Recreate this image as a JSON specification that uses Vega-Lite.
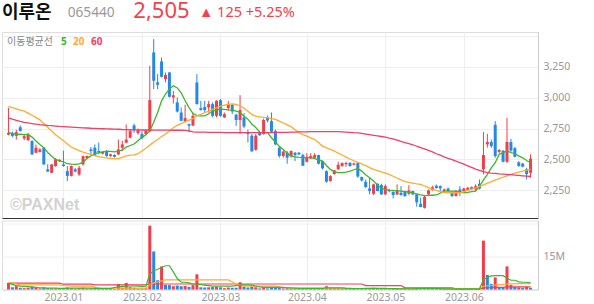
{
"$schema":"https://vega.github.io/schema/vega-lite/v6.json",
"padding":{"left":1,"top":0,"right":0,"bottom":0},
"background":"white",
"spacing":8,
"resolve":{"scale":{"color":"independent"},"legend":{"color":"independent"}},
"config":{"view":{"stroke":"#dddddd"},"font":"Noto Sans","axis":{"labelFont":"Noto Sans","labelFontSize":10.5,"labelColor":"#999999","ticks":false,"gridColor":"#eeeeee"}},
"datasets":{
"hdr":[{"part":"name","t":"이루온"},{"part":"code","t":"065440"},{"part":"price","t":"2,505"},{"part":"chg","t":"▲ 125 +5.25%"}],
"k":[
{"i":0,"o":2700,"h":2918,"l":2695,"c":2715,"v":3.0,"vu":1,"m5":2716,"m20":2930,"m60":2835,"w5":2.8,"w20":3.0,"w60":2.9},
{"i":1,"o":2712,"h":2725,"l":2680,"c":2690,"v":1.0,"vu":0,"m5":2710,"m20":2920,"m60":2826,"w5":2.3,"w20":3.0,"w60":2.9},
{"i":2,"o":2690,"h":2740,"l":2660,"c":2720,"v":1.5,"vu":1,"m5":2702,"m20":2910,"m60":2817,"w5":1.8,"w20":2.5,"w60":2.9},
{"i":3,"o":2760,"h":2775,"l":2725,"c":2730,"v":0.8,"vu":0,"m5":2705,"m20":2900,"m60":2808,"w5":1.5,"w20":2.1,"w60":2.9},
{"i":4,"o":2670,"h":2700,"l":2655,"c":2688,"v":0.6,"vu":1,"m5":2700,"m20":2891,"m60":2800,"w5":1.4,"w20":2.1,"w60":2.9},
{"i":5,"o":2655,"h":2715,"l":2650,"c":2700,"v":0.8,"vu":1,"m5":2702,"m20":2875,"m60":2795,"w5":1.3,"w20":2.1,"w60":2.9},
{"i":6,"o":2648,"h":2655,"l":2535,"c":2540,"v":1.2,"vu":0,"m5":2680,"m20":2858,"m60":2790,"w5":1.2,"w20":2.1,"w60":2.9},
{"i":7,"o":2553,"h":2620,"l":2550,"c":2594,"v":0.7,"vu":1,"m5":2648,"m20":2840,"m60":2785,"w5":1.0,"w20":2.1,"w60":2.9},
{"i":8,"o":2560,"h":2590,"l":2555,"c":2580,"v":0.5,"vu":1,"m5":2620,"m20":2820,"m60":2781,"w5":0.8,"w20":2.1,"w60":2.9},
{"i":9,"o":2594,"h":2600,"l":2455,"c":2458,"v":0.9,"vu":0,"m5":2594,"m20":2790,"m60":2778,"w5":0.7,"w20":2.1,"w60":2.9},
{"i":10,"o":2418,"h":2460,"l":2398,"c":2400,"v":0.6,"vu":0,"m5":2555,"m20":2760,"m60":2775,"w5":0.6,"w20":2.1,"w60":2.9},
{"i":11,"o":2390,"h":2462,"l":2388,"c":2458,"v":0.5,"vu":1,"m5":2525,"m20":2730,"m60":2773,"w5":0.6,"w20":2.1,"w60":2.9},
{"i":12,"o":2445,"h":2510,"l":2440,"c":2500,"v":0.5,"vu":1,"m5":2499,"m20":2700,"m60":2770,"w5":0.6,"w20":2.1,"w60":2.9},
{"i":13,"o":2485,"h":2500,"l":2478,"c":2495,"v":0.4,"vu":1,"m5":2488,"m20":2675,"m60":2767,"w5":0.5,"w20":2.1,"w60":2.9},
{"i":14,"o":2458,"h":2570,"l":2440,"c":2445,"v":0.6,"vu":0,"m5":2480,"m20":2650,"m60":2765,"w5":0.5,"w20":1.8,"w60":2.4},
{"i":15,"o":2404,"h":2445,"l":2323,"c":2365,"v":0.9,"vu":0,"m5":2464,"m20":2625,"m60":2763,"w5":0.6,"w20":1.7,"w60":2.4},
{"i":16,"o":2365,"h":2450,"l":2360,"c":2445,"v":0.6,"vu":1,"m5":2460,"m20":2600,"m60":2761,"w5":0.6,"w20":1.5,"w60":2.4},
{"i":17,"o":2418,"h":2430,"l":2395,"c":2400,"v":0.4,"vu":0,"m5":2458,"m20":2585,"m60":2759,"w5":0.6,"w20":1.5,"w60":2.4},
{"i":18,"o":2377,"h":2445,"l":2365,"c":2431,"v":0.6,"vu":1,"m5":2462,"m20":2570,"m60":2757,"w5":0.6,"w20":1.5,"w60":2.4},
{"i":19,"o":2458,"h":2530,"l":2450,"c":2525,"v":0.8,"vu":1,"m5":2475,"m20":2558,"m60":2755,"w5":0.6,"w20":1.5,"w60":2.4},
{"i":20,"o":2510,"h":2530,"l":2505,"c":2527,"v":0.4,"vu":1,"m5":2507,"m20":2548,"m60":2754,"w5":0.6,"w20":1.5,"w60":2.4},
{"i":21,"o":2580,"h":2600,"l":2540,"c":2567,"v":0.5,"vu":0,"m5":2528,"m20":2540,"m60":2752,"w5":0.6,"w20":1.5,"w60":2.4},
{"i":22,"o":2594,"h":2620,"l":2525,"c":2527,"v":0.6,"vu":0,"m5":2545,"m20":2530,"m60":2751,"w5":0.5,"w20":1.0,"w60":2.1},
{"i":23,"o":2567,"h":2635,"l":2540,"c":2555,"v":0.4,"vu":0,"m5":2555,"m20":2522,"m60":2749,"w5":0.5,"w20":0.6,"w60":2.1},
{"i":24,"o":2545,"h":2565,"l":2540,"c":2560,"v":0.3,"vu":1,"m5":2561,"m20":2516,"m60":2748,"w5":0.45,"w20":0.6,"w60":2.1},
{"i":25,"o":2567,"h":2575,"l":2520,"c":2527,"v":0.4,"vu":0,"m5":2567,"m20":2512,"m60":2747,"w5":0.45,"w20":0.6,"w60":2.1},
{"i":26,"o":2527,"h":2545,"l":2520,"c":2540,"v":0.3,"vu":1,"m5":2565,"m20":2508,"m60":2746,"w5":0.4,"w20":0.6,"w60":2.1},
{"i":27,"o":2535,"h":2540,"l":2515,"c":2520,"v":0.3,"vu":0,"m5":2561,"m20":2505,"m60":2745,"w5":0.9,"w20":0.6,"w60":2.1},
{"i":28,"o":2540,"h":2660,"l":2535,"c":2580,"v":2.5,"vu":1,"m5":2566,"m20":2505,"m60":2744,"w5":1.2,"w20":0.6,"w60":2.1},
{"i":29,"o":2594,"h":2650,"l":2567,"c":2621,"v":0.8,"vu":1,"m5":2575,"m20":2515,"m60":2742,"w5":1.4,"w20":0.6,"w60":2.1},
{"i":30,"o":2635,"h":2783,"l":2630,"c":2660,"v":3.0,"vu":1,"m5":2599,"m20":2528,"m60":2741,"w5":1.5,"w20":0.6,"w60":2.1},
{"i":31,"o":2675,"h":2740,"l":2670,"c":2729,"v":1.2,"vu":1,"m5":2612,"m20":2533,"m60":2740,"w5":1.6,"w20":0.6,"w60":2.1},
{"i":32,"o":2775,"h":2790,"l":2715,"c":2735,"v":0.8,"vu":0,"m5":2624,"m20":2535,"m60":2739,"w5":1.6,"w20":0.6,"w60":2.1},
{"i":33,"o":2712,"h":2750,"l":2700,"c":2737,"v":0.5,"vu":1,"m5":2650,"m20":2545,"m60":2739,"w5":1.5,"w20":0.6,"w60":2.1},
{"i":34,"o":2705,"h":2727,"l":2662,"c":2672,"v":0.5,"vu":0,"m5":2678,"m20":2568,"m60":2738,"w5":1.4,"w20":0.6,"w60":2.1},
{"i":35,"o":2705,"h":2740,"l":2700,"c":2732,"v":0.6,"vu":1,"m5":2700,"m20":2590,"m60":2738,"w5":1.5,"w20":0.6,"w60":2.1},
{"i":36,"o":2727,"h":3260,"l":2718,"c":2981,"v":29.0,"vu":1,"m5":2732,"m20":2615,"m60":2738,"w5":7.0,"w20":2.0,"w60":2.5},
{"i":37,"o":3368,"h":3476,"l":3070,"c":3138,"v":17.3,"vu":0,"m5":2800,"m20":2640,"m60":2737,"w5":8.5,"w20":3.0,"w60":2.5},
{"i":38,"o":3125,"h":3192,"l":3070,"c":3105,"v":4.2,"vu":0,"m5":2880,"m20":2660,"m60":2737,"w5":9.2,"w20":3.5,"w60":2.5},
{"i":39,"o":3295,"h":3327,"l":3165,"c":3170,"v":10.5,"vu":1,"m5":2975,"m20":2685,"m60":2737,"w5":10.0,"w20":3.9,"w60":2.5},
{"i":40,"o":3152,"h":3205,"l":3125,"c":3185,"v":2.1,"vu":0,"m5":3030,"m20":2705,"m60":2737,"w5":10.8,"w20":4.35,"w60":2.5},
{"i":41,"o":3205,"h":3210,"l":3002,"c":3008,"v":2.0,"vu":0,"m5":3070,"m20":2730,"m60":2737,"w5":10.8,"w20":4.35,"w60":2.5},
{"i":42,"o":3002,"h":3056,"l":2953,"c":3020,"v":1.5,"vu":1,"m5":3097,"m20":2756,"m60":2736,"w5":8.0,"w20":4.35,"w60":2.5},
{"i":43,"o":2962,"h":3002,"l":2880,"c":2888,"v":1.8,"vu":0,"m5":3080,"m20":2775,"m60":2736,"w5":5.0,"w20":4.35,"w60":2.5},
{"i":44,"o":2880,"h":2921,"l":2808,"c":2813,"v":1.5,"vu":0,"m5":3040,"m20":2790,"m60":2736,"w5":3.3,"w20":4.35,"w60":2.5},
{"i":45,"o":2808,"h":2943,"l":2800,"c":2835,"v":1.6,"vu":1,"m5":2975,"m20":2805,"m60":2735,"w5":3.3,"w20":4.35,"w60":2.5},
{"i":46,"o":2786,"h":2790,"l":2718,"c":2773,"v":1.2,"vu":0,"m5":2920,"m20":2818,"m60":2730,"w5":3.0,"w20":4.35,"w60":2.5},
{"i":47,"o":2773,"h":2880,"l":2770,"c":2853,"v":2.0,"vu":1,"m5":2872,"m20":2830,"m60":2722,"w5":2.5,"w20":4.35,"w60":2.5},
{"i":48,"o":3124,"h":3192,"l":2945,"c":2948,"v":6.9,"vu":1,"m5":2855,"m20":2853,"m60":2721,"w5":2.5,"w20":4.35,"w60":2.5},
{"i":49,"o":2916,"h":2975,"l":2895,"c":2900,"v":1.0,"vu":0,"m5":2853,"m20":2865,"m60":2720,"w5":2.2,"w20":4.35,"w60":2.5},
{"i":50,"o":2925,"h":2975,"l":2880,"c":2900,"v":0.9,"vu":0,"m5":2853,"m20":2878,"m60":2720,"w5":2.0,"w20":4.35,"w60":2.5},
{"i":51,"o":2921,"h":2975,"l":2880,"c":2948,"v":1.0,"vu":1,"m5":2870,"m20":2892,"m60":2719,"w5":1.8,"w20":4.35,"w60":2.5},
{"i":52,"o":2948,"h":2962,"l":2840,"c":2853,"v":1.1,"vu":0,"m5":2894,"m20":2905,"m60":2719,"w5":1.5,"w20":4.35,"w60":2.5},
{"i":53,"o":2853,"h":2980,"l":2840,"c":2975,"v":1.2,"vu":1,"m5":2900,"m20":2918,"m60":2718,"w5":1.5,"w20":4.35,"w60":2.5},
{"i":54,"o":2980,"h":2990,"l":2845,"c":2853,"v":1.0,"vu":0,"m5":2908,"m20":2930,"m60":2718,"w5":1.5,"w20":4.35,"w60":2.5},
{"i":55,"o":2840,"h":2880,"l":2835,"c":2867,"v":0.6,"vu":1,"m5":2905,"m20":2940,"m60":2717,"w5":1.5,"w20":4.35,"w60":2.5},
{"i":56,"o":2916,"h":2975,"l":2894,"c":2948,"v":0.9,"vu":1,"m5":2902,"m20":2946,"m60":2717,"w5":1.5,"w20":4.35,"w60":2.5},
{"i":57,"o":2943,"h":2948,"l":2867,"c":2888,"v":0.7,"vu":0,"m5":2900,"m20":2950,"m60":2717,"w5":1.5,"w20":3.5,"w60":2.5},
{"i":58,"o":2862,"h":2870,"l":2772,"c":2819,"v":0.8,"vu":0,"m5":2892,"m20":2945,"m60":2717,"w5":1.8,"w20":2.5,"w60":2.5},
{"i":59,"o":2819,"h":3021,"l":2705,"c":2900,"v":3.3,"vu":1,"m5":2880,"m20":2935,"m60":2716,"w5":2.0,"w20":2.1,"w60":2.5},
{"i":60,"o":2840,"h":2875,"l":2753,"c":2767,"v":1.2,"vu":0,"m5":2850,"m20":2915,"m60":2716,"w5":2.1,"w20":1.5,"w60":2.5},
{"i":61,"o":2720,"h":2740,"l":2637,"c":2705,"v":0.9,"vu":0,"m5":2826,"m20":2890,"m60":2716,"w5":2.1,"w20":1.5,"w60":2.5},
{"i":62,"o":2692,"h":2705,"l":2561,"c":2565,"v":1.3,"vu":0,"m5":2785,"m20":2865,"m60":2716,"w5":2.0,"w20":1.5,"w60":2.5},
{"i":63,"o":2577,"h":2705,"l":2570,"c":2692,"v":1.0,"vu":1,"m5":2759,"m20":2850,"m60":2716,"w5":1.6,"w20":1.5,"w60":2.5},
{"i":64,"o":2718,"h":2732,"l":2690,"c":2695,"v":0.5,"vu":0,"m5":2718,"m20":2845,"m60":2716,"w5":1.2,"w20":1.5,"w60":2.5},
{"i":65,"o":2705,"h":2830,"l":2700,"c":2819,"v":1.0,"vu":1,"m5":2717,"m20":2840,"m60":2716,"w5":1.0,"w20":1.5,"w60":2.5},
{"i":66,"o":2840,"h":2855,"l":2800,"c":2815,"v":0.5,"vu":0,"m5":2716,"m20":2838,"m60":2717,"w5":1.0,"w20":1.5,"w60":2.5},
{"i":67,"o":2810,"h":2880,"l":2716,"c":2724,"v":0.8,"vu":0,"m5":2675,"m20":2830,"m60":2717,"w5":1.0,"w20":1.5,"w60":2.5},
{"i":68,"o":2729,"h":2743,"l":2615,"c":2621,"v":1.0,"vu":0,"m5":2640,"m20":2824,"m60":2718,"w5":1.0,"w20":1.5,"w60":2.5},
{"i":69,"o":2594,"h":2600,"l":2513,"c":2527,"v":0.9,"vu":0,"m5":2605,"m20":2810,"m60":2718,"w5":1.0,"w20":1.2,"w60":2.5},
{"i":70,"o":2527,"h":2572,"l":2513,"c":2562,"v":0.5,"vu":1,"m5":2580,"m20":2795,"m60":2719,"w5":0.9,"w20":1.0,"w60":2.5},
{"i":71,"o":2553,"h":2567,"l":2464,"c":2513,"v":0.6,"vu":0,"m5":2550,"m20":2780,"m60":2719,"w5":0.8,"w20":0.8,"w60":2.5},
{"i":72,"o":2527,"h":2572,"l":2513,"c":2567,"v":0.5,"vu":1,"m5":2526,"m20":2765,"m60":2720,"w5":0.7,"w20":0.6,"w60":2.5},
{"i":73,"o":2553,"h":2560,"l":2486,"c":2534,"v":0.4,"vu":0,"m5":2520,"m20":2740,"m60":2721,"w5":0.6,"w20":0.6,"w60":2.5},
{"i":74,"o":2553,"h":2560,"l":2535,"c":2540,"v":0.3,"vu":0,"m5":2515,"m20":2715,"m60":2722,"w5":0.5,"w20":0.6,"w60":2.5},
{"i":75,"o":2534,"h":2545,"l":2445,"c":2448,"v":0.7,"vu":0,"m5":2513,"m20":2700,"m60":2722,"w5":0.5,"w20":0.6,"w60":2.5},
{"i":76,"o":2480,"h":2550,"l":2475,"c":2520,"v":0.4,"vu":1,"m5":2513,"m20":2688,"m60":2723,"w5":0.5,"w20":0.6,"w60":2.5},
{"i":77,"o":2507,"h":2550,"l":2500,"c":2526,"v":0.4,"vu":1,"m5":2513,"m20":2674,"m60":2724,"w5":0.5,"w20":0.6,"w60":2.5},
{"i":78,"o":2512,"h":2550,"l":2510,"c":2534,"v":0.5,"vu":1,"m5":2505,"m20":2660,"m60":2724,"w5":0.5,"w20":0.6,"w60":2.5},
{"i":79,"o":2534,"h":2537,"l":2458,"c":2464,"v":0.5,"vu":0,"m5":2495,"m20":2635,"m60":2725,"w5":0.5,"w20":0.6,"w60":2.5},
{"i":80,"o":2485,"h":2490,"l":2418,"c":2426,"v":0.6,"vu":0,"m5":2486,"m20":2607,"m60":2725,"w5":0.5,"w20":0.6,"w60":2.5},
{"i":81,"o":2404,"h":2410,"l":2310,"c":2318,"v":1.5,"vu":1,"m5":2450,"m20":2592,"m60":2725,"w5":0.7,"w20":0.6,"w60":2.5},
{"i":82,"o":2323,"h":2371,"l":2318,"c":2363,"v":0.6,"vu":1,"m5":2418,"m20":2580,"m60":2724,"w5":0.7,"w20":0.6,"w60":2.5},
{"i":83,"o":2380,"h":2415,"l":2375,"c":2410,"v":0.5,"vu":1,"m5":2400,"m20":2567,"m60":2724,"w5":0.7,"w20":0.6,"w60":2.5},
{"i":84,"o":2420,"h":2480,"l":2410,"c":2455,"v":0.6,"vu":1,"m5":2392,"m20":2550,"m60":2724,"w5":0.7,"w20":0.6,"w60":2.5},
{"i":85,"o":2445,"h":2475,"l":2440,"c":2470,"v":0.4,"vu":1,"m5":2391,"m20":2535,"m60":2722,"w5":0.7,"w20":0.6,"w60":2.5},
{"i":86,"o":2460,"h":2480,"l":2440,"c":2470,"v":0.3,"vu":1,"m5":2396,"m20":2518,"m60":2720,"w5":0.5,"w20":0.6,"w60":2.5},
{"i":87,"o":2472,"h":2475,"l":2440,"c":2445,"v":0.4,"vu":0,"m5":2404,"m20":2502,"m60":2718,"w5":0.45,"w20":0.6,"w60":2.5},
{"i":88,"o":2455,"h":2475,"l":2450,"c":2465,"v":0.3,"vu":1,"m5":2415,"m20":2488,"m60":2716,"w5":0.4,"w20":0.45,"w60":2.5},
{"i":89,"o":2470,"h":2475,"l":2350,"c":2360,"v":0.7,"vu":0,"m5":2426,"m20":2475,"m60":2715,"w5":0.45,"w20":0.45,"w60":2.5},
{"i":90,"o":2355,"h":2360,"l":2320,"c":2328,"v":0.5,"vu":0,"m5":2404,"m20":2462,"m60":2710,"w5":0.45,"w20":0.45,"w60":2.5},
{"i":91,"o":2317,"h":2336,"l":2269,"c":2274,"v":0.6,"vu":0,"m5":2375,"m20":2448,"m60":2705,"w5":0.5,"w20":0.45,"w60":1.8},
{"i":92,"o":2263,"h":2350,"l":2215,"c":2242,"v":0.7,"vu":0,"m5":2350,"m20":2432,"m60":2700,"w5":0.55,"w20":0.45,"w60":1.8},
{"i":93,"o":2220,"h":2301,"l":2209,"c":2296,"v":0.5,"vu":1,"m5":2323,"m20":2418,"m60":2695,"w5":0.6,"w20":0.45,"w60":1.8},
{"i":94,"o":2301,"h":2305,"l":2240,"c":2242,"v":0.4,"vu":0,"m5":2290,"m20":2408,"m60":2690,"w5":0.55,"w20":0.45,"w60":1.8},
{"i":95,"o":2290,"h":2301,"l":2209,"c":2215,"v":0.5,"vu":0,"m5":2263,"m20":2398,"m60":2685,"w5":0.55,"w20":0.45,"w60":1.8},
{"i":96,"o":2215,"h":2296,"l":2209,"c":2282,"v":0.4,"vu":1,"m5":2255,"m20":2388,"m60":2680,"w5":0.5,"w20":0.45,"w60":1.8},
{"i":97,"o":2250,"h":2260,"l":2232,"c":2240,"v":0.3,"vu":0,"m5":2250,"m20":2377,"m60":2672,"w5":0.45,"w20":0.45,"w60":1.8},
{"i":98,"o":2236,"h":2240,"l":2182,"c":2209,"v":0.4,"vu":0,"m5":2247,"m20":2362,"m60":2665,"w5":0.4,"w20":0.45,"w60":1.8},
{"i":99,"o":2215,"h":2296,"l":2210,"c":2247,"v":0.4,"vu":1,"m5":2245,"m20":2348,"m60":2655,"w5":0.4,"w20":0.45,"w60":1.8},
{"i":100,"o":2228,"h":2282,"l":2205,"c":2209,"v":0.3,"vu":0,"m5":2242,"m20":2333,"m60":2645,"w5":0.35,"w20":0.45,"w60":1.8},
{"i":101,"o":2242,"h":2245,"l":2195,"c":2201,"v":0.3,"vu":0,"m5":2238,"m20":2318,"m60":2636,"w5":0.35,"w20":0.45,"w60":0.75},
{"i":102,"o":2220,"h":2290,"l":2210,"c":2247,"v":0.4,"vu":1,"m5":2233,"m20":2312,"m60":2627,"w5":0.35,"w20":0.45,"w60":0.75},
{"i":103,"o":2242,"h":2245,"l":2210,"c":2215,"v":0.3,"vu":0,"m5":2228,"m20":2306,"m60":2618,"w5":0.35,"w20":0.45,"w60":0.75},
{"i":104,"o":2215,"h":2220,"l":2115,"c":2150,"v":0.6,"vu":0,"m5":2218,"m20":2300,"m60":2606,"w5":0.4,"w20":0.45,"w60":0.75},
{"i":105,"o":2139,"h":2188,"l":2110,"c":2112,"v":0.5,"vu":0,"m5":2210,"m20":2296,"m60":2595,"w5":0.45,"w20":0.45,"w60":0.75},
{"i":106,"o":2106,"h":2205,"l":2100,"c":2195,"v":0.6,"vu":1,"m5":2205,"m20":2283,"m60":2584,"w5":0.5,"w20":0.45,"w60":0.75},
{"i":107,"o":2215,"h":2255,"l":2210,"c":2247,"v":0.4,"vu":1,"m5":2206,"m20":2270,"m60":2572,"w5":0.5,"w20":0.45,"w60":0.75},
{"i":108,"o":2250,"h":2285,"l":2245,"c":2272,"v":0.3,"vu":1,"m5":2208,"m20":2258,"m60":2560,"w5":0.5,"w20":0.45,"w60":0.75},
{"i":109,"o":2285,"h":2295,"l":2262,"c":2266,"v":0.3,"vu":0,"m5":2210,"m20":2247,"m60":2545,"w5":0.45,"w20":0.45,"w60":0.75},
{"i":110,"o":2282,"h":2288,"l":2242,"c":2264,"v":0.3,"vu":0,"m5":2225,"m20":2238,"m60":2533,"w5":0.4,"w20":0.45,"w60":0.75},
{"i":111,"o":2242,"h":2262,"l":2235,"c":2255,"v":0.2,"vu":1,"m5":2242,"m20":2230,"m60":2520,"w5":0.3,"w20":0.45,"w60":0.75},
{"i":112,"o":2263,"h":2270,"l":2238,"c":2242,"v":0.2,"vu":0,"m5":2242,"m20":2229,"m60":2508,"w5":0.25,"w20":0.45,"w60":0.75},
{"i":113,"o":2236,"h":2240,"l":2195,"c":2201,"v":0.3,"vu":0,"m5":2242,"m20":2228,"m60":2497,"w5":0.25,"w20":0.45,"w60":0.75},
{"i":114,"o":2201,"h":2250,"l":2198,"c":2242,"v":0.3,"vu":1,"m5":2242,"m20":2228,"m60":2485,"w5":0.25,"w20":0.45,"w60":0.3},
{"i":115,"o":2255,"h":2282,"l":2201,"c":2228,"v":0.3,"vu":0,"m5":2235,"m20":2228,"m60":2472,"w5":0.25,"w20":0.45,"w60":0.3},
{"i":116,"o":2242,"h":2268,"l":2238,"c":2263,"v":0.2,"vu":1,"m5":2228,"m20":2236,"m60":2460,"w5":0.25,"w20":0.45,"w60":0.3},
{"i":117,"o":2252,"h":2275,"l":2248,"c":2269,"v":0.2,"vu":1,"m5":2232,"m20":2248,"m60":2447,"w5":0.25,"w20":0.45,"w60":0.3},
{"i":118,"o":2274,"h":2280,"l":2250,"c":2258,"v":0.2,"vu":0,"m5":2238,"m20":2258,"m60":2434,"w5":0.25,"w20":0.45,"w60":0.3},
{"i":119,"o":2255,"h":2296,"l":2242,"c":2282,"v":0.3,"vu":1,"m5":2242,"m20":2268,"m60":2420,"w5":0.25,"w20":0.45,"w60":0.3},
{"i":120,"o":2301,"h":2336,"l":2255,"c":2263,"v":0.5,"vu":0,"m5":2282,"m20":2280,"m60":2410,"w5":0.3,"w20":0.45,"w60":0.3},
{"i":121,"o":2418,"h":2721,"l":2377,"c":2535,"v":22.2,"vu":1,"m5":2330,"m20":2292,"m60":2400,"w5":4.5,"w20":1.5,"w60":0.7},
{"i":122,"o":2621,"h":2707,"l":2594,"c":2640,"v":6.6,"vu":0,"m5":2377,"m20":2305,"m60":2392,"w5":5.5,"w20":1.8,"w60":0.8},
{"i":123,"o":2640,"h":2661,"l":2594,"c":2607,"v":2.5,"vu":0,"m5":2430,"m20":2318,"m60":2388,"w5":6.2,"w20":1.9,"w60":0.85},
{"i":124,"o":2780,"h":2810,"l":2512,"c":2526,"v":5.5,"vu":1,"m5":2472,"m20":2330,"m60":2385,"w5":6.3,"w20":2.1,"w60":0.95},
{"i":125,"o":2560,"h":2585,"l":2550,"c":2575,"v":1.2,"vu":0,"m5":2540,"m20":2342,"m60":2382,"w5":6.3,"w20":2.2,"w60":1.0},
{"i":126,"o":2570,"h":2575,"l":2475,"c":2480,"v":1.0,"vu":0,"m5":2555,"m20":2354,"m60":2380,"w5":6.3,"w20":2.3,"w60":1.0},
{"i":127,"o":2480,"h":2837,"l":2470,"c":2640,"v":10.5,"vu":1,"m5":2567,"m20":2366,"m60":2377,"w5":5.2,"w20":2.5,"w60":1.2},
{"i":128,"o":2640,"h":2665,"l":2560,"c":2570,"v":2.1,"vu":0,"m5":2555,"m20":2377,"m60":2375,"w5":4.2,"w20":2.6,"w60":1.2},
{"i":129,"o":2590,"h":2600,"l":2515,"c":2520,"v":1.2,"vu":0,"m5":2545,"m20":2388,"m60":2372,"w5":4.2,"w20":2.6,"w60":1.2},
{"i":130,"o":2475,"h":2485,"l":2440,"c":2445,"v":1.0,"vu":1,"m5":2528,"m20":2396,"m60":2369,"w5":3.5,"w20":2.7,"w60":1.2},
{"i":131,"o":2465,"h":2470,"l":2435,"c":2440,"v":0.8,"vu":0,"m5":2512,"m20":2404,"m60":2366,"w5":3.3,"w20":2.7,"w60":1.2},
{"i":132,"o":2420,"h":2431,"l":2336,"c":2380,"v":1.2,"vu":1,"m5":2490,"m20":2411,"m60":2363,"w5":3.3,"w20":2.7,"w60":1.2},
{"i":133,"o":2390,"h":2540,"l":2350,"c":2505,"v":0.8,"vu":0,"m5":2472,"m20":2418,"m60":2360,"w5":3.0,"w20":2.7,"w60":1.2}
]},
"vconcat":[
{
"width":197,"height":23,
"view":{"stroke":null},
"data":{"name":"hdr"},
"encoding":{"x":{"field":"part","type":"ordinal","scale":{"type":"point","padding":0,"domain":["name","code","price","chg"]},"axis":null},"text":{"field":"t"}},
"layer":[
{"transform":[{"filter":"datum.part == 'name'"}],"mark":{"type":"text","align":"left","baseline":"alphabetic","dy":6.3,"fontSize":18,"fontWeight":"bold","font":"Noto Sans CJK KR","color":"#111111"}},
{"transform":[{"filter":"datum.part == 'code'"}],"mark":{"type":"text","align":"left","baseline":"alphabetic","dy":5.2,"fontSize":13.7,"font":"Noto Sans","color":"#999999"}},
{"transform":[{"filter":"datum.part == 'price'"}],"mark":{"type":"text","align":"left","baseline":"alphabetic","dy":6.8,"fontSize":22,"font":"Noto Sans","color":"#f5414c"}},
{"transform":[{"filter":"datum.part == 'chg'"}],"mark":{"type":"text","align":"left","baseline":"alphabetic","dy":5.2,"fontSize":14.5,"font":"Noto Sans","color":"#f5414c"}}
]
},
{
"spacing":0.5,
"vconcat":[
{
"width":536,"height":186,
"data":{"name":"k"},
"encoding":{
"x":{"field":"i","type":"quantitative","scale":{"domain":[-0.375,133.625],"nice":false,"zero":false},"title":null,"axis":{"values":[14,34,54,76,96,116],"labels":false,"ticks":false,"grid":true,"domainColor":"#333333","domainWidth":1}},
"y":{"field":"l","type":"quantitative","scale":{"domain":[2023,3534],"nice":false,"zero":false},"title":null,"axis":{"orient":"right","values":[2250,2500,2750,3000,3250,3500],"labelExpr":"datum.value == 3500 ? '' : format(datum.value, ',')","grid":true,"domainColor":"#cccccc","labelPadding":5}}
},
"layer":[
{"data":{"values":[{"t":"©PAXNet","wx":0.4,"wy":2128}]},"mark":{"type":"text","align":"left","baseline":"middle","font":"Liberation Sans","fontWeight":"bold","fontSize":16,"color":"#d2d2d2"},"encoding":{"x":{"field":"wx","type":"quantitative","title":null},"y":{"field":"wy","type":"quantitative","title":null,"axis":{"orient":"right","values":[2250,2500,2750,3000,3250,3500],"labelExpr":"datum.value == 3500 ? '' : format(datum.value, ',')","grid":true,"domainColor":"#cccccc","labelPadding":5}},"text":{"field":"t"}}},
{"mark":{"type":"rule","strokeWidth":1},"encoding":{"y2":{"field":"h"},"color":{"condition":{"test":"datum.c >= datum.o","value":"#f23d4a"},"value":"#2388e8"}}},
{"mark":{"type":"bar","width":3},"encoding":{"y":{"field":"o","type":"quantitative","title":null,"axis":{"orient":"right","values":[2250,2500,2750,3000,3250,3500],"labelExpr":"datum.value == 3500 ? '' : format(datum.value, ',')","grid":true,"domainColor":"#cccccc","labelPadding":5}},"y2":{"field":"c"},"color":{"condition":{"test":"datum.c >= datum.o","value":"#f23d4a"},"value":"#2388e8"}}},
{"transform":[{"fold":["m5","m20","m60"],"as":["k","val"]}],"mark":{"type":"line","strokeWidth":1.3},"encoding":{"y":{"field":"val","type":"quantitative","title":null,"axis":{"orient":"right","values":[2250,2500,2750,3000,3250,3500],"labelExpr":"datum.value == 3500 ? '' : format(datum.value, ',')","grid":true,"domainColor":"#cccccc","labelPadding":5}},"color":{"field":"k","type":"nominal","scale":{"domain":["m5","m20","m60"],"range":["#3cb72c","#ffab2e","#f43e63"]},"legend":{"orient":"top-left","offset":5,"direction":"horizontal","title":"이동평균선","titleOrient":"left","titleFont":"Noto Sans CJK KR","titleFontSize":10,"titleFontWeight":"normal","titleColor":"#888888","titlePadding":6,"labelFont":"Noto Sans","labelFontSize":10,"labelFontWeight":"bold","labelExpr":"replace(datum.label, 'm', '')","symbolType":"circle","symbolSize":0,"symbolOpacity":0,"symbolStrokeWidth":0,"labelOffset":-8,"columnPadding":4,"padding":0,"encode":{"symbols":{"update":{"size":{"value":0},"opacity":{"value":0}}},"labels":{"update":{"fill":{"signal":"datum.value == 'm5' ? '#3cb72c' : datum.value == 'm20' ? '#ffab2e' : '#f43e63'"}}}}}}}}
]
},
{
"width":536,"height":69,
"data":{"name":"k"},
"encoding":{
"x":{"field":"i","type":"quantitative","scale":{"domain":[-0.375,133.625],"nice":false,"zero":false},"title":null,"axis":{"values":[14,34,54,76,96,116],"labelExpr":"['2023.01','2023.02','2023.03','2023.04','2023.05','2023.06'][indexof([14,34,54,76,96,116], datum.value)]","ticks":false,"grid":true,"domainColor":"#dddddd","labelPadding":3}},
"y":{"field":"v","type":"quantitative","scale":{"domain":[0,31.36],"nice":false,"zero":true},"title":null,"axis":{"orient":"right","values":[15,30],"labelExpr":"datum.value == 15 ? '15M' : ''","grid":true,"domainColor":"#cccccc","labelPadding":5}}
},
"layer":[
{"mark":{"type":"bar","width":3,"orient":"vertical"},"encoding":{"color":{"condition":{"test":"datum.vu == 1","value":"#f23d4a"},"value":"#2388e8"}}},
{"mark":{"type":"line","strokeWidth":1.2,"color":"#f43e63"},"encoding":{"y":{"field":"w60","type":"quantitative","title":null,"axis":{"orient":"right","values":[15,30],"labelExpr":"datum.value == 15 ? '15M' : ''","grid":true,"domainColor":"#cccccc","labelPadding":5}}}},
{"mark":{"type":"line","strokeWidth":1.2,"color":"#ffab2e"},"encoding":{"y":{"field":"w20","type":"quantitative","title":null,"axis":{"orient":"right","values":[15,30],"labelExpr":"datum.value == 15 ? '15M' : ''","grid":true,"domainColor":"#cccccc","labelPadding":5}}}},
{"mark":{"type":"line","strokeWidth":1.2,"color":"#3cb72c"},"encoding":{"y":{"field":"w5","type":"quantitative","title":null,"axis":{"orient":"right","values":[15,30],"labelExpr":"datum.value == 15 ? '15M' : ''","grid":true,"domainColor":"#cccccc","labelPadding":5}}}}
]
}
]
}
]
}
